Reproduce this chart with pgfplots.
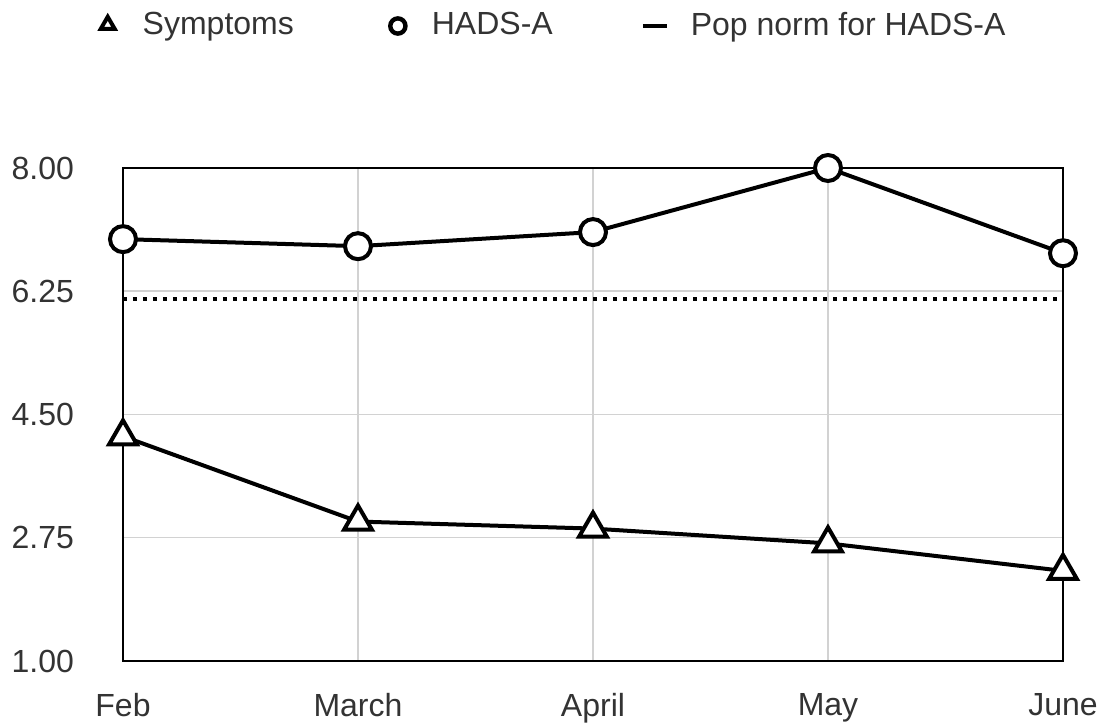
\documentclass[border=0pt]{standalone}
\usepackage{fontspec}
\setmainfont{Liberation Sans}
\usepackage{pgfplots}
\pgfplotsset{compat=1.18}
\pgfplotstableread{
x y
0 4.19
1 2.98
2 2.88
3 2.67
4 2.28
}\symptoms
\pgfplotstableread{
x y
0 6.99
1 6.89
2 7.09
3 8.00
4 6.79
}\hads
\pgfplotstableread{
x y
0 6.14
3.99 6.14
}\popnorm
\begin{document}
\fontsize{16}{19}\selectfont
\begin{tikzpicture}
\useasboundingbox (-61.5pt,-31pt) rectangle (487.5pt,330.5pt);
\begin{axis}[
  at={(0,0)}, anchor=south west,
  scale only axis, width=470pt, height=246.5pt,
  xmin=0, xmax=4, ymin=1, ymax=8,
  xtick={0,1,2,3,4}, xticklabels={Feb,March,April,May,June},
  ytick={1,2.75,4.5,6.25,8},
  tick label style={font=\fontsize{16}{19}\selectfont, text=black!80},
  yticklabel style={/pgf/number format/fixed, /pgf/number format/fixed zerofill, /pgf/number format/precision=2, /pgf/number format/assume math mode=true, xshift=-19pt},
  xticklabel style={yshift=-10.5pt},
  grid=major,
  major grid style={gray!35, line width=0.75pt},
  axis line style={line width=1pt, black},
  major tick length=0pt,
  clip=false,
  legend columns=3,
  legend style={draw=none, fill=none, inner sep=0pt, outer sep=0pt,
    at={(axis description cs:-0.0290,1.288)}, anchor=west,
    font=\fontsize{16}{19}\selectfont, text=black!80,
    /tikz/every even column/.style={column sep=0pt},
    /tikz/every odd column/.style={column sep=0pt}},
]
\addlegendimage{legend image code/.code={
  \path[draw=none, fill=none] (-6pt,0) -- (15.5pt,0);
  \draw[line width=2pt, black] plot[mark=triangle, mark size=4pt, mark options={fill=white}] coordinates {(0pt,0.6pt)};}}
\addlegendentry{Symptoms}
\addlegendimage{legend image code/.code={
  \path[draw=none, fill=none] (-50pt,0) -- (15pt,0);
  \draw[line width=2.2pt, black] plot[mark=o, mark size=3.8pt, mark options={fill=white}] coordinates {(0pt,0pt)};}}
\addlegendentry{HADS-A}
\addlegendimage{legend image code/.code={
  \path[draw=none, fill=none] (-49pt,0) -- (16pt,0);
  \draw[line width=1.8pt, black] (-6pt,0) -- (6pt,0);}}
\addlegendentry{Pop norm for HADS-A}
\addplot[forget plot, black, line width=2pt, dash pattern=on 2pt off 3pt] table[x=x,y=y] {\popnorm};
\addplot[forget plot, black, line width=2pt, mark=triangle*, mark size=8pt, mark options={fill=white, solid}] table[x=x,y=y] {\symptoms};
\addplot[forget plot, black, line width=2pt, mark=*, mark size=6.5pt, mark options={fill=white, solid}] table[x=x,y=y] {\hads};
\end{axis}
\end{tikzpicture}
\end{document}
